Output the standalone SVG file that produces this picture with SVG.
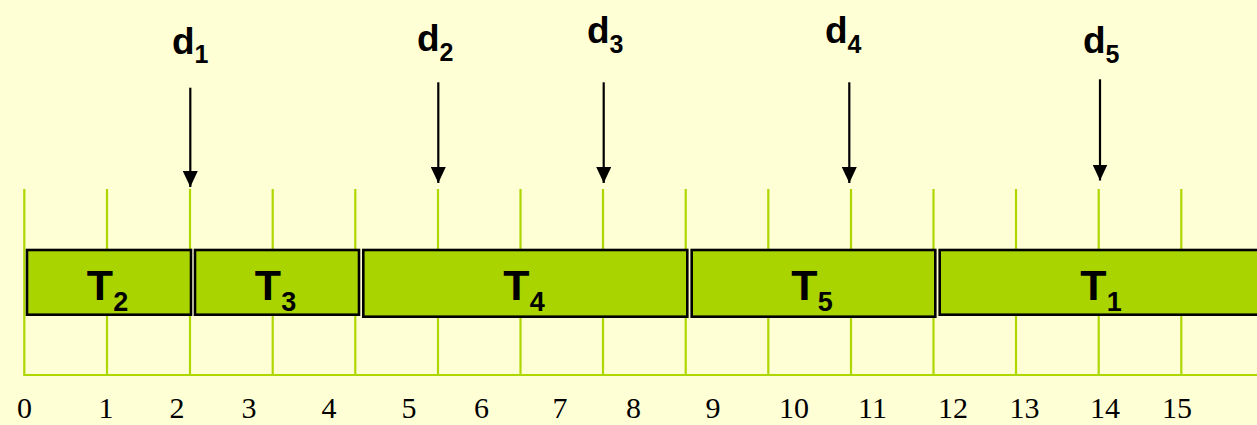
<svg xmlns="http://www.w3.org/2000/svg" width="1257" height="425" viewBox="0 0 1257 425">
<defs>
<style>
.grid{stroke:#AED600;stroke-width:2.2;fill:none}
.box{fill:#AAD400;stroke:#000;stroke-width:2.6}
.tl{font-family:"Liberation Sans",Arial,sans-serif;font-weight:bold;font-size:43px;fill:#000;text-anchor:middle}
.sub{font-size:27px}
.dl{font-family:"Liberation Sans",Arial,sans-serif;font-weight:bold;font-size:37px;fill:#000}
.dsub{font-size:25px}
.num{font-family:"Liberation Serif","Times New Roman",serif;font-size:30px;fill:#000;text-anchor:middle}
.arr{stroke:#000;stroke-width:2.2;fill:none;marker-end:url(#ah)}
</style>
<marker id="ah" markerUnits="userSpaceOnUse" markerWidth="16" markerHeight="15" refX="16" refY="7.5" orient="auto" viewBox="0 0 16 15">
<path d="M0,0 L16,7.5 L0,15 Z" fill="#000"/>
</marker>
</defs>
<rect x="0" y="0" width="1257" height="425" fill="#FFFFD5"/>
<g id="grid">
<line class="grid" x1="24.3" y1="189" x2="24.3" y2="375"/>
<line class="grid" x1="107" y1="189" x2="107" y2="375"/>
<line class="grid" x1="190" y1="189" x2="190" y2="375"/>
<line class="grid" x1="272.7" y1="189" x2="272.7" y2="375"/>
<line class="grid" x1="355.3" y1="189" x2="355.3" y2="375"/>
<line class="grid" x1="438" y1="189" x2="438" y2="375"/>
<line class="grid" x1="520.5" y1="189" x2="520.5" y2="375"/>
<line class="grid" x1="603" y1="189" x2="603" y2="375"/>
<line class="grid" x1="685.7" y1="189" x2="685.7" y2="375"/>
<line class="grid" x1="768.3" y1="189" x2="768.3" y2="375"/>
<line class="grid" x1="851" y1="189" x2="851" y2="375"/>
<line class="grid" x1="933.5" y1="189" x2="933.5" y2="375"/>
<line class="grid" x1="1016" y1="189" x2="1016" y2="375"/>
<line class="grid" x1="1098.7" y1="189" x2="1098.7" y2="375"/>
<line class="grid" x1="1181.3" y1="189" x2="1181.3" y2="375"/>
<line class="grid" x1="23.2" y1="375" x2="1257" y2="375"/>
</g>
<g id="axis-labels">
<text class="num" x="24.5" y="418">0</text>
<text class="num" x="106" y="418">1</text>
<text class="num" x="177" y="418">2</text>
<text class="num" x="249" y="418">3</text>
<text class="num" x="329" y="418">4</text>
<text class="num" x="409" y="418">5</text>
<text class="num" x="481.5" y="418">6</text>
<text class="num" x="560" y="418">7</text>
<text class="num" x="633.5" y="418">8</text>
<text class="num" x="713" y="418">9</text>
<text class="num" x="794" y="418">10</text>
<text class="num" x="872.5" y="418">11</text>
<text class="num" x="953" y="418">12</text>
<text class="num" x="1024.5" y="418">13</text>
<text class="num" x="1105" y="418">14</text>
<text class="num" x="1177" y="418">15</text>
</g>
<g id="T2">
<rect class="box" x="27" y="250" width="164" height="64.7"/>
<text class="tl" x="107.5" y="299.5">T<tspan class="sub" dy="11">2</tspan></text>
</g>
<g id="T3">
<rect class="box" x="195" y="250" width="164" height="64.7"/>
<text class="tl" x="275.5" y="299.5">T<tspan class="sub" dy="11">3</tspan></text>
</g>
<g id="T4">
<rect class="box" x="363.3" y="250" width="324" height="66.7"/>
<text class="tl" x="524" y="300">T<tspan class="sub" dy="11">4</tspan></text>
</g>
<g id="T5">
<rect class="box" x="691.7" y="250" width="243.6" height="66.7"/>
<text class="tl" x="812" y="300">T<tspan class="sub" dy="11">5</tspan></text>
</g>
<g id="T1">
<rect class="box" x="939.7" y="250" width="330" height="64.7"/>
<text class="tl" x="1101" y="299.5">T<tspan class="sub" dy="11">1</tspan></text>
</g>
<g id="d1"><text class="dl" x="172" y="54">d<tspan class="dsub" dy="9">1</tspan></text></g>
<g id="d2"><text class="dl" x="417" y="51">d<tspan class="dsub" dy="10">2</tspan></text></g>
<g id="d3"><text class="dl" x="587" y="43">d<tspan class="dsub" dy="10">3</tspan></text></g>
<g id="d4"><text class="dl" x="825" y="43">d<tspan class="dsub" dy="10">4</tspan></text></g>
<g id="d5"><text class="dl" x="1083" y="53">d<tspan class="dsub" dy="10">5</tspan></text></g>
<g id="connectors">
<line class="arr" x1="190.3" y1="87.7" x2="190.3" y2="187"/>
<line class="arr" x1="438.3" y1="82.3" x2="438.3" y2="183"/>
<line class="arr" x1="603.7" y1="82.3" x2="603.7" y2="183"/>
<line class="arr" x1="849.3" y1="82.3" x2="849.3" y2="183"/>
<line class="arr" x1="1100" y1="79.3" x2="1100" y2="180.5"/>
</g>
</svg>
